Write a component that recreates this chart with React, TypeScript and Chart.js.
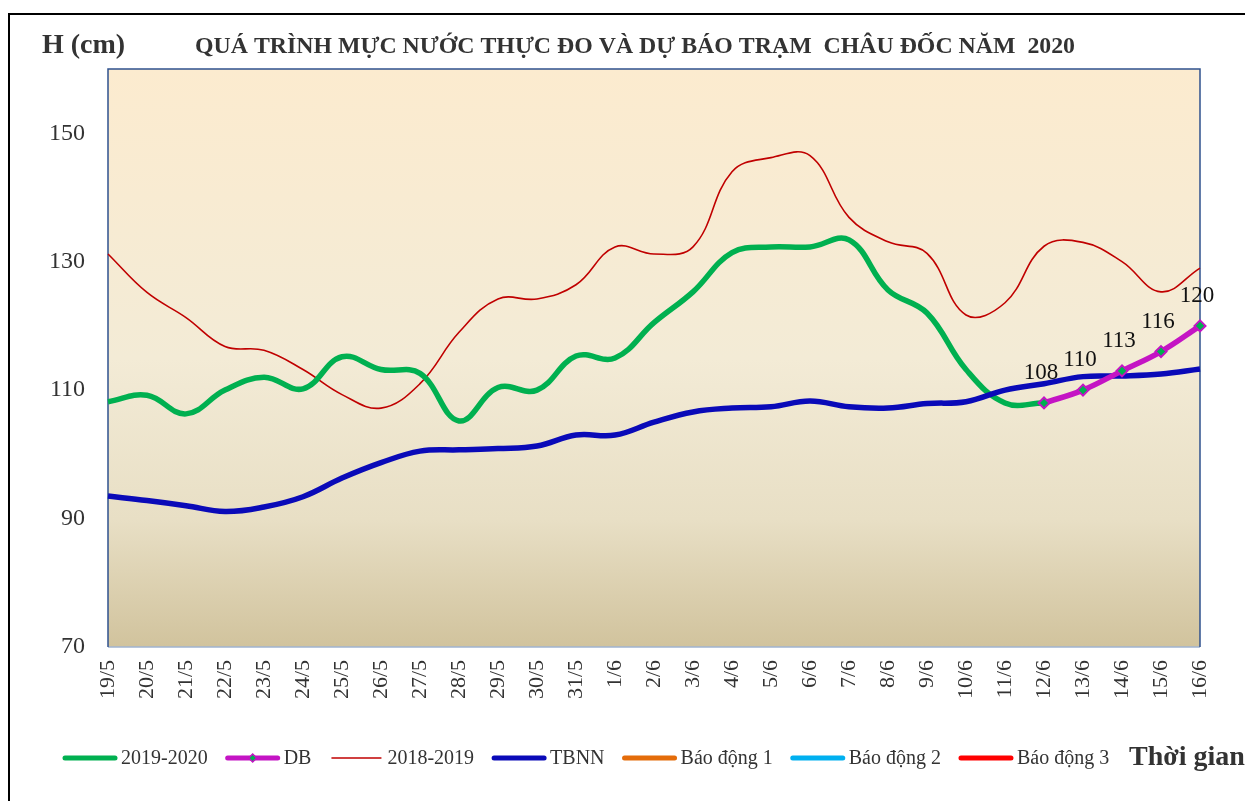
import React, { useEffect, useRef } from "react";
import { Chart, registerables } from "chart.js";

Chart.register(...registerables);

const FONT = "'Liberation Serif', 'Times New Roman', serif";

const categories = [
  "19/5", "20/5", "21/5", "22/5", "23/5", "24/5", "25/5", "26/5", "27/5", "28/5",
  "29/5", "30/5", "31/5", "1/6", "2/6", "3/6", "4/6", "5/6", "6/6", "7/6",
  "8/6", "9/6", "10/6", "11/6", "12/6", "13/6", "14/6", "15/6", "16/6",
];

const yTickValues = [70, 90, 110, 130, 150];

const series2019_2020 = [
  108.2, 109.2, 106.3, 110, 112, 110.2, 115.2, 113.2, 112.6, 105.2,
  110.4, 110, 115.3, 115, 120.5, 125.3, 131.4, 132.3, 132.3, 133.4,
  125.6, 122, 113.2, 108, 108,
];

const seriesDB = [
  null, null, null, null, null, null, null, null, null, null,
  null, null, null, null, null, null, null, null, null, null,
  null, null, null, null, 108, 110, 113, 116, 120,
];

const series2018_2019 = [
  131.2, 125.2, 121.3, 116.8, 116.2, 113.2, 109.3, 107.2, 111, 119,
  124.2, 124.2, 126.4, 132.3, 131.2, 132.3, 144, 146.2, 146.5, 136.9,
  133.1, 131.3, 121.7, 123.6, 132.4, 133, 130, 125.3, 129,
];

const seriesTBNN = [
  93.5, 92.8, 92, 91.1, 91.8, 93.4, 96.3, 98.7, 100.5, 100.7,
  100.9, 101.3, 103, 103, 105, 106.6, 107.2, 107.4, 108.3, 107.4,
  107.2, 107.9, 108.2, 110, 111, 112.1, 112.2, 112.5, 113.3,
];

const alarm1: (number | null)[] = [];
const alarm2: (number | null)[] = [];
const alarm3: (number | null)[] = [];

const titleText = "QUÁ TRÌNH MỰC NƯỚC THỰC ĐO VÀ DỰ BÁO TRẠM  CHÂU ĐỐC NĂM  2020";
const yAxisTitle = "H (cm)";
const xAxisTitle = "Thời gian";

const legendItems = [
  { label: "2019-2020", color: "#00B050", width: 5, marker: false },
  { label: "DB", color: "#C414C4", width: 5, marker: true },
  { label: "2018-2019", color: "#C00000", width: 1.6, marker: false },
  { label: "TBNN", color: "#0A0AB8", width: 5, marker: false },
  { label: "Báo động 1", color: "#E46C0A", width: 5, marker: false },
  { label: "Báo động 2", color: "#00B0F0", width: 5, marker: false },
  { label: "Báo động 3", color: "#FF0000", width: 5, marker: false },
];

const decorPlugin = {
  id: "decor",
  beforeDraw(chart: any) {
    const { ctx, chartArea: a, width, height } = chart;
    ctx.save();
    ctx.fillStyle = "#ffffff";
    ctx.fillRect(0, 0, width, height);
    ctx.strokeStyle = "#000000";
    ctx.lineWidth = 2;
    ctx.strokeRect(9, 14, width + 40, height + 40);
    const g = ctx.createLinearGradient(0, a.top, 0, a.bottom);
    g.addColorStop(0, "#FCEBCF");
    g.addColorStop(0.5, "#F3EBD6");
    g.addColorStop(0.78, "#E8DFC5");
    g.addColorStop(1, "#D1C39D");
    ctx.fillStyle = g;
    ctx.fillRect(a.left, a.top, a.right - a.left, a.bottom - a.top);
    ctx.restore();
  },
  beforeDatasetsDraw(chart: any) {
    const { ctx, chartArea: a } = chart;
    ctx.save();
    ctx.lineWidth = 1.5;
    ctx.strokeStyle = "#9FB3D1";
    ctx.beginPath();
    ctx.moveTo(a.left, a.bottom);
    ctx.lineTo(a.right, a.bottom);
    ctx.stroke();
    ctx.strokeStyle = "#2F528F";
    ctx.beginPath();
    ctx.moveTo(a.left, a.bottom);
    ctx.lineTo(a.left, a.top);
    ctx.lineTo(a.right, a.top);
    ctx.lineTo(a.right, a.bottom);
    ctx.stroke();
    ctx.restore();
  },
  afterDraw(chart: any) {
    const { ctx } = chart;
    ctx.save();
    ctx.fillStyle = "#333333";
    ctx.textBaseline = "middle";
    ctx.textAlign = "left";
    ctx.font = `bold 28px ${FONT}`;
    ctx.fillText(yAxisTitle, 42, 46);
    ctx.font = `bold 20px ${FONT}`;
    const tw = ctx.measureText(titleText).width;
    const size = (20 * 880) / tw;
    ctx.font = `bold ${size.toFixed(2)}px ${FONT}`;
    ctx.fillText(titleText, 195, 47);

    const meta = chart.getDatasetMeta(1);
    ctx.font = `23px ${FONT}`;
    ctx.fillStyle = "#111111";
    ctx.textAlign = "center";
    meta.data.forEach((pt: any, i: number) => {
      const v = seriesDB[i];
      if (v == null) return;
      ctx.fillText(String(v), pt.x - 3, pt.y - 30);
    });

    const ly = 758;
    let x = 63;
    ctx.font = `20px ${FONT}`;
    ctx.textAlign = "left";
    ctx.fillStyle = "#333333";
    legendItems.forEach((it) => {
      ctx.strokeStyle = it.color;
      ctx.lineWidth = it.width;
      ctx.lineCap = it.width > 2 ? "round" : "butt";
      ctx.beginPath();
      ctx.moveTo(x + 2, ly);
      ctx.lineTo(x + 52, ly);
      ctx.stroke();
      if (it.marker) {
        ctx.fillStyle = "#00B050";
        ctx.strokeStyle = it.color;
        ctx.lineWidth = 1.5;
        ctx.beginPath();
        ctx.moveTo(x + 27, ly - 4);
        ctx.lineTo(x + 31, ly);
        ctx.lineTo(x + 27, ly + 4);
        ctx.lineTo(x + 23, ly);
        ctx.closePath();
        ctx.fill();
        ctx.stroke();
      }
      ctx.fillStyle = "#333333";
      ctx.fillText(it.label, x + 58, ly + 1);
      x += 58 + ctx.measureText(it.label).width + 18;
    });
    ctx.font = `bold 28px ${FONT}`;
    ctx.fillText(xAxisTitle, 1129, ly);
    ctx.restore();
  },
};

export default function App() {
  const ref = useRef<HTMLCanvasElement | null>(null);

  useEffect(() => {
    if (!ref.current) return;
    const chart = new Chart(ref.current, {
      type: "line",
      data: {
        labels: categories,
        datasets: [
          {
            label: "2019-2020",
            data: series2019_2020,
            borderColor: "#00B050",
            borderWidth: 5.5,
            pointRadius: 0,
            tension: 0.4,
            order: 3,
          },
          {
            label: "DB",
            data: seriesDB,
            borderColor: "#C414C4",
            borderWidth: 5.5,
            pointStyle: "rectRot",
            pointRadius: 5.5,
            pointBackgroundColor: "#00B050",
            pointBorderColor: "#C414C4",
            pointBorderWidth: 2,
            tension: 0.4,
            order: 0,
          },
          {
            label: "2018-2019",
            data: series2018_2019,
            borderColor: "#C00000",
            borderWidth: 1.6,
            pointRadius: 0,
            tension: 0.4,
            order: 4,
          },
          {
            label: "TBNN",
            data: seriesTBNN,
            borderColor: "#0A0AB8",
            borderWidth: 5.5,
            pointRadius: 0,
            tension: 0.4,
            order: 2,
          },
          { label: "Báo động 1", data: alarm1, borderColor: "#E46C0A", borderWidth: 5, pointRadius: 0 },
          { label: "Báo động 2", data: alarm2, borderColor: "#00B0F0", borderWidth: 5, pointRadius: 0 },
          { label: "Báo động 3", data: alarm3, borderColor: "#FF0000", borderWidth: 5, pointRadius: 0 },
        ],
      },
      options: {
        responsive: false,
        animation: false,
        layout: { padding: { top: 69, right: 45, left: 0, bottom: 0 } },
        plugins: {
          legend: { display: false },
          tooltip: { enabled: false },
          title: { display: false },
        },
        scales: {
          x: {
            type: "category",
            offset: false,
            grid: { display: false, drawTicks: false },
            border: { display: false },
            ticks: {
              autoSkip: false,
              minRotation: 90,
              maxRotation: 90,
              padding: 13,
              color: "#333333",
              font: { family: FONT, size: 22 },
            },
            afterFit: (s: any) => {
              s.height = 154;
            },
          },
          y: {
            min: 70,
            max: 160,
            grid: { display: false, drawTicks: false },
            border: { display: false },
            ticks: {
              padding: 23,
              color: "#333333",
              font: { family: FONT, size: 24 },
            },
            afterBuildTicks: (s: any) => {
              s.ticks = yTickValues.map((v) => ({ value: v }));
            },
            afterFit: (s: any) => {
              s.width = 108;
            },
          },
        },
      },
      plugins: [decorPlugin],
    });
    return () => chart.destroy();
  }, []);

  return (
    <canvas
      ref={ref}
      width={1245}
      height={801}
      style={{ position: "fixed", left: 0, top: 0, width: 1245, height: 801 }}
    />
  );
}
